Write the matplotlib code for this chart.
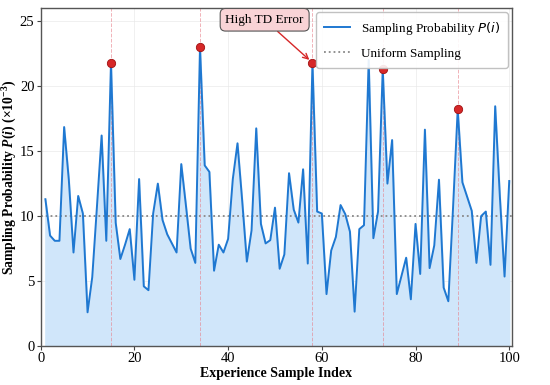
import numpy as np
import matplotlib
matplotlib.use("Agg")
import matplotlib.pyplot as plt

idx = list(range(1, 101))
prob = [11.3, 8.5, 8.1, 8.1, 16.85, 12.8, 7.2, 11.55, 10.2, 2.6,
        5.3, 10.7, 16.2, 8.1, 21.8, 9.5, 6.7, 7.8, 9.0, 5.1,
        12.85, 4.6, 4.3, 10.2, 12.5, 9.7, 8.6, 7.9, 7.2, 14.0,
        10.8, 7.5, 6.4, 23.0, 13.9, 13.4, 5.8, 7.8, 7.2, 8.25,
        12.85, 15.6, 11.2, 6.5, 8.9, 16.75, 9.4, 7.9, 8.15, 10.65,
        5.95, 7.05, 13.3, 10.5, 9.5, 13.6, 6.35, 21.8, 10.35, 10.2,
        4.0, 7.35, 8.4, 10.85, 10.15, 8.8, 2.65, 9.0, 9.3, 22.0,
        8.3, 10.35, 21.3, 12.5, 15.85, 4.0, 5.4, 6.8, 3.6, 9.4,
        5.55, 16.65, 6.0, 7.75, 12.8, 4.5, 3.45, 10.6, 18.2, 12.6,
        11.5, 10.4, 6.4, 10.0, 10.35, 6.25, 18.45, 11.5, 5.35, 12.7]
peaks = [15, 34, 58, 73, 89]
uniform = 10.0

plt.rcParams['font.family'] = ['Liberation Serif', 'DejaVu Serif']
plt.rcParams['mathtext.fontset'] = 'custom'
plt.rcParams['mathtext.rm'] = 'Liberation Serif:bold'
plt.rcParams['mathtext.it'] = 'Liberation Serif:italic:bold'
plt.rcParams['mathtext.bf'] = 'Liberation Serif:bold'

fig = plt.figure(figsize=(5.5, 3.85), dpi=100)
ax = fig.add_axes([0.074, 0.101, 0.857, 0.878])

x = np.array(idx)
y = np.array(prob)
ax.fill_between(x, 0, y, color='#d0e6fa', alpha=1.0, zorder=1)
ax.plot(x, y, color='#1f78d1', lw=1.4, zorder=3, label='Sampling Probability $P(i)$')
ax.axhline(uniform, color='#888888', ls=':', lw=1.3, zorder=2, label='Uniform Sampling')

for p in peaks:
    ax.axvline(p, color='#e8808a', ls='--', lw=0.7, alpha=0.6, zorder=2)
ax.scatter([p for p in peaks], [prob[p - 1] for p in peaks], s=36, color='#d62728',
           edgecolor='#a01010', linewidth=0.6, zorder=5)

ax.annotate('High TD Error', xy=(58, prob[57]), xytext=(47.8, 25.1),
            ha='center', va='center', fontsize=9.5,
            bbox=dict(boxstyle='round,pad=0.4', fc='#f9d3d6', ec='#555555', lw=0.8),
            arrowprops=dict(arrowstyle='->', color='#d62728', lw=1.0, shrinkA=0, shrinkB=3),
            zorder=6)

ax.set_xlim(0, 100.6)
ax.set_ylim(0, 26)
ax.set_xticks([0, 20, 40, 60, 80, 100])
ax.set_yticks([0, 5, 10, 15, 20, 25])
ax.tick_params(labelsize=10.5, length=3, color='#444444', pad=1.5)
ax.grid(True, color='#e6e6e6', lw=0.6, alpha=0.7)
ax.set_axisbelow(True)
for s in ax.spines.values():
    s.set_color('#555555')
    s.set_linewidth(1.0)

ax.set_xlabel('Experience Sample Index', fontsize=10, fontweight='bold', labelpad=1)
ax.set_ylabel(r'Sampling Probability $P(i)$ ($\times10^{-3}$)', fontsize=9.8,
              fontweight='bold', labelpad=0.5)

leg = ax.legend(loc='upper right', fontsize=9.5, frameon=True, fancybox=True,
                framealpha=0.9, edgecolor='#bbbbbb', borderpad=0.6, labelspacing=0.8,
                handlelength=2.0, borderaxespad=0.3)
for t in leg.get_texts():
    t.set_math_fontfamily('dejavusans')

fig.savefig('out.png', dpi=100)
